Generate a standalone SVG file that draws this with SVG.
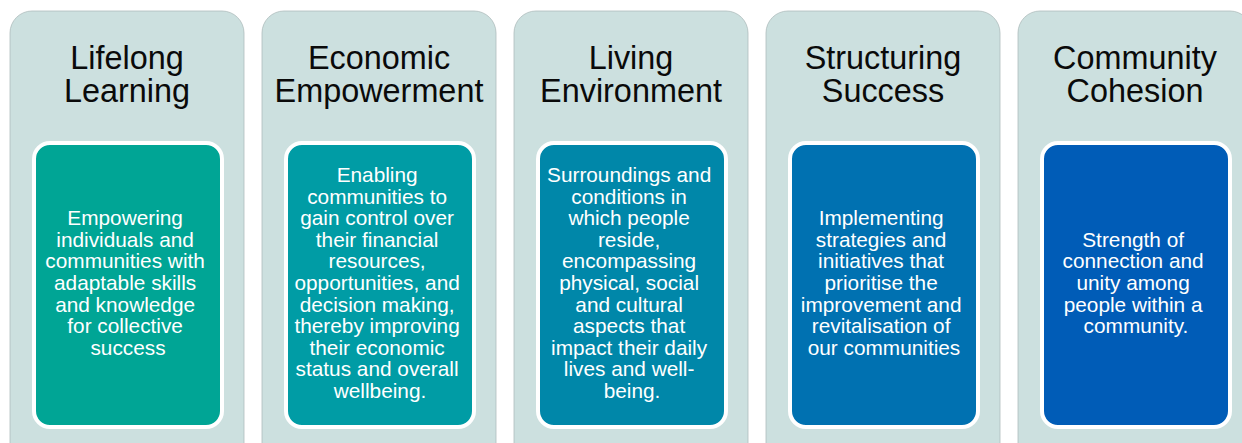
<svg xmlns="http://www.w3.org/2000/svg" width="1242" height="443" viewBox="0 0 1242 443">
  <style>
    .panel { fill: #CCE0DF; stroke: #AFBDBC; stroke-width: 0.8; }
    .card { stroke: #FFFFFF; stroke-width: 4; }
    .title { font-family: "Liberation Sans", Arial, sans-serif; font-size: 32.4px; fill: #0A0A0A; text-anchor: middle; }
    .body { font-family: "Liberation Sans", Arial, sans-serif; font-size: 20.8px; fill: #FFFFFF; text-anchor: middle; }
  </style>
  <rect width="1242" height="443" fill="#FFFFFF"/>

  <!-- Column 1 -->
  <g id="lifelong-learning">
    <rect class="panel" x="10" y="11" width="234" height="460" rx="22"/>
    <text class="title" x="127" y="69">Lifelong</text>
    <text class="title" x="127" y="101.5">Learning</text>
    <rect class="card" x="34" y="143" width="188" height="284" rx="16" fill="#00A595"/>
    <text class="body" x="128" y="225.2">
      <tspan x="128">Empowering</tspan>
      <tspan x="128" dy="21.6">individuals and</tspan>
      <tspan x="128" dy="21.6">communities with</tspan>
      <tspan x="128" dy="21.6">adaptable skills</tspan>
      <tspan x="128" dy="21.6">and knowledge</tspan>
      <tspan x="128" dy="21.6">for collective</tspan>
      <tspan x="128" dy="21.6">success</tspan>
    </text>
  </g>

  <!-- Column 2 -->
  <g id="economic-empowerment">
    <rect class="panel" x="262" y="11" width="234" height="460" rx="22"/>
    <text class="title" x="379" y="69">Economic</text>
    <text class="title" x="379" y="101.5">Empowerment</text>
    <rect class="card" x="286" y="143" width="188" height="284" rx="16" fill="#009CA5"/>
    <text class="body" x="380" y="182">
      <tspan x="380">Enabling</tspan>
      <tspan x="380" dy="21.6">communities to</tspan>
      <tspan x="380" dy="21.6">gain control over</tspan>
      <tspan x="380" dy="21.6">their financial</tspan>
      <tspan x="380" dy="21.6">resources,</tspan>
      <tspan x="380" dy="21.6">opportunities, and</tspan>
      <tspan x="380" dy="21.6">decision making,</tspan>
      <tspan x="380" dy="21.6">thereby improving</tspan>
      <tspan x="380" dy="21.6">their economic</tspan>
      <tspan x="380" dy="21.6">status and overall</tspan>
      <tspan x="380" dy="21.6">wellbeing.</tspan>
    </text>
  </g>

  <!-- Column 3 -->
  <g id="living-environment">
    <rect class="panel" x="514" y="11" width="234" height="460" rx="22"/>
    <text class="title" x="631" y="69">Living</text>
    <text class="title" x="631" y="101.5">Environment</text>
    <rect class="card" x="538" y="143" width="188" height="284" rx="16" fill="#0087A9"/>
    <text class="body" x="632" y="182">
      <tspan x="632">Surroundings and</tspan>
      <tspan x="632" dy="21.6">conditions in</tspan>
      <tspan x="632" dy="21.6">which people</tspan>
      <tspan x="632" dy="21.6">reside,</tspan>
      <tspan x="632" dy="21.6">encompassing</tspan>
      <tspan x="632" dy="21.6">physical, social</tspan>
      <tspan x="632" dy="21.6">and cultural</tspan>
      <tspan x="632" dy="21.6">aspects that</tspan>
      <tspan x="632" dy="21.6">impact their daily</tspan>
      <tspan x="632" dy="21.6">lives and well-</tspan>
      <tspan x="632" dy="21.6">being.</tspan>
    </text>
  </g>

  <!-- Column 4 -->
  <g id="structuring-success">
    <rect class="panel" x="766" y="11" width="234" height="460" rx="22"/>
    <text class="title" x="883" y="69">Structuring</text>
    <text class="title" x="883" y="101.5">Success</text>
    <rect class="card" x="790" y="143" width="188" height="284" rx="16" fill="#0071B1"/>
    <text class="body" x="884" y="225.2">
      <tspan x="884">Implementing</tspan>
      <tspan x="884" dy="21.6">strategies and</tspan>
      <tspan x="884" dy="21.6">initiatives that</tspan>
      <tspan x="884" dy="21.6">prioritise the</tspan>
      <tspan x="884" dy="21.6">improvement and</tspan>
      <tspan x="884" dy="21.6">revitalisation of</tspan>
      <tspan x="884" dy="21.6">our communities</tspan>
    </text>
  </g>

  <!-- Column 5 -->
  <g id="community-cohesion">
    <rect class="panel" x="1018" y="11" width="234" height="460" rx="22"/>
    <text class="title" x="1135" y="69">Community</text>
    <text class="title" x="1135" y="101.5">Cohesion</text>
    <rect class="card" x="1042" y="143" width="188" height="284" rx="16" fill="#005CB7"/>
    <text class="body" x="1136" y="246.8">
      <tspan x="1136">Strength of</tspan>
      <tspan x="1136" dy="21.6">connection and</tspan>
      <tspan x="1136" dy="21.6">unity among</tspan>
      <tspan x="1136" dy="21.6">people within a</tspan>
      <tspan x="1136" dy="21.6">community.</tspan>
    </text>
  </g>

  <g id="connectors"/>
</svg>
